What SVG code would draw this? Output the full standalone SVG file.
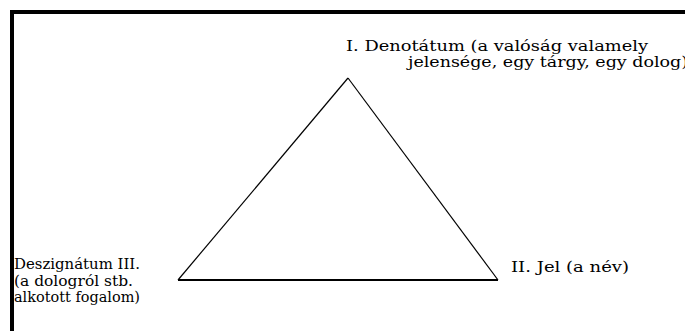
<svg xmlns="http://www.w3.org/2000/svg" width="685" height="331" viewBox="0 0 685 331">
<style>
.t{font-family:"DejaVu Serif","Liberation Serif",serif;font-size:14px;fill:#000}
.e{stroke:#000;fill:none}
</style>
<rect x="0" y="0" width="685" height="331" fill="#fff"/>
<g id="frame">
<rect x="10" y="10" width="675" height="4" fill="#000"/>
<rect x="10" y="10" width="4" height="321" fill="#000"/>
</g>
<g id="connectors">
<line class="e" x1="348" y1="78" x2="178" y2="280" stroke-width="1.2"/>
<line class="e" x1="348" y1="78" x2="498" y2="280" stroke-width="1.2"/>
<line class="e" x1="178" y1="280" x2="498" y2="280" stroke-width="2"/>
</g>
<g id="n1">
<text class="t" x="346" y="51" textLength="302" lengthAdjust="spacingAndGlyphs">I. Denotátum (a valóság valamely</text>
<text class="t" x="408" y="67" textLength="280" lengthAdjust="spacingAndGlyphs">jelensége, egy tárgy, egy dolog)</text>
</g>
<g id="n2">
<text class="t" x="511" y="272" textLength="118" lengthAdjust="spacingAndGlyphs">II. Jel (a név)</text>
</g>
<g id="n3">
<text class="t" x="14" y="269" textLength="126" lengthAdjust="spacingAndGlyphs">Deszignátum III.</text>
<text class="t" x="14" y="285.5" textLength="119" lengthAdjust="spacingAndGlyphs">(a dologról stb.</text>
<text class="t" x="14" y="302" textLength="126" lengthAdjust="spacingAndGlyphs">alkotott fogalom)</text>
</g>
</svg>
